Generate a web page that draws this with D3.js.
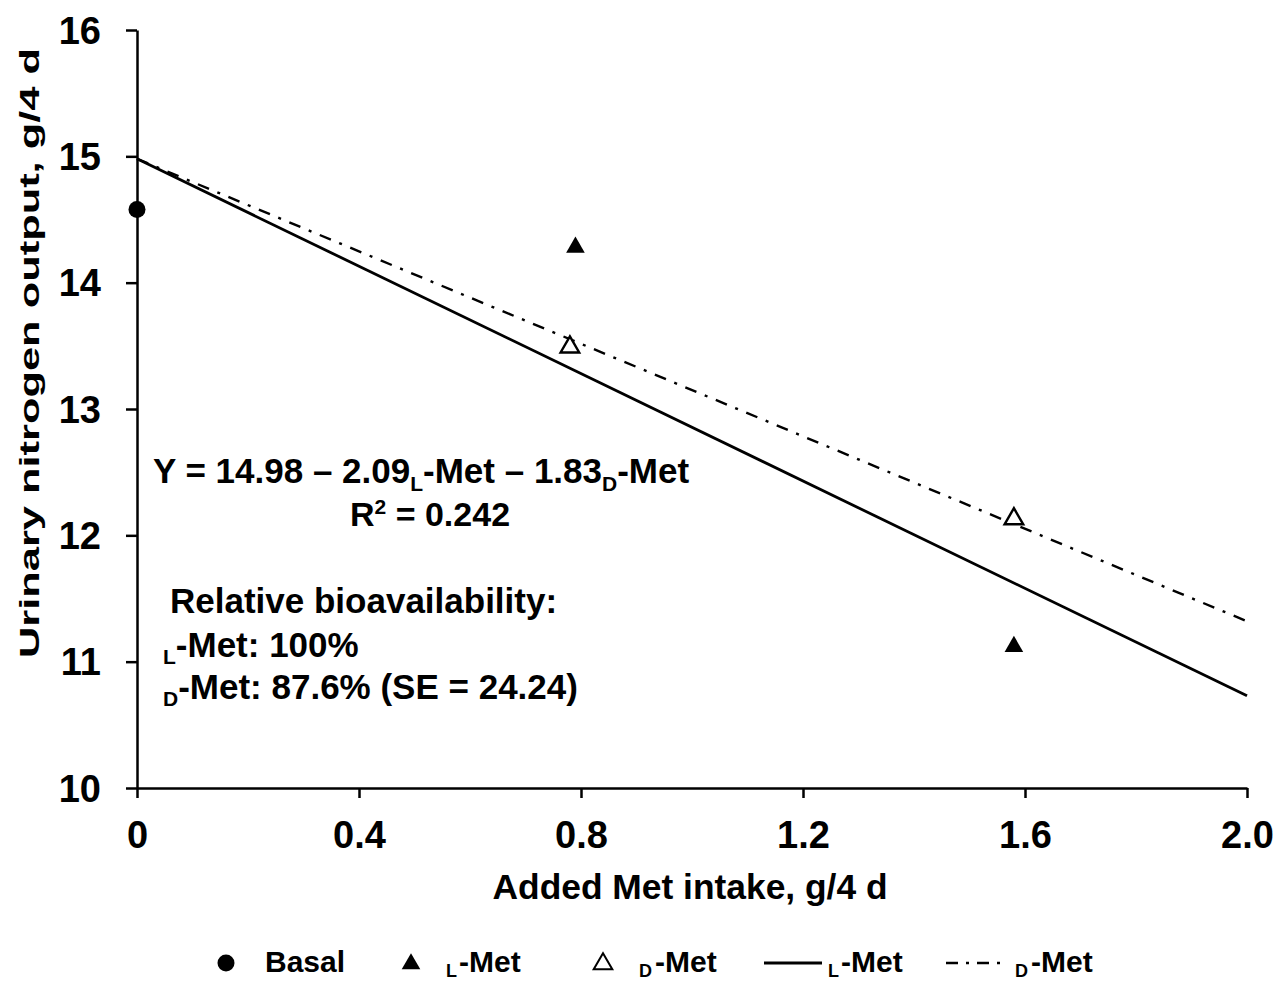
<!DOCTYPE html>
<html>
<head>
<meta charset="utf-8">
<script src="https://cdn.jsdelivr.net/npm/d3@7"></script>
<style>
  body { margin: 0; background: #fff; }
  svg { font-family: "Liberation Sans", Arial, sans-serif; font-weight: bold; }
  .axis path, .axis line { stroke: #000; stroke-width: 2.5px; }
  .axis text { font-size: 38px; font-weight: bold; fill: #000; }
</style>
</head>
<body>
<svg width="1273" height="982"></svg>
<script>
// observed means
var basal = [{ x: 0, y: 14.58 }];
var lMet = [{ x: 0.79, y: 14.28 }, { x: 1.58, y: 11.12 }];
var dMet = [{ x: 0.78, y: 13.49 }, { x: 1.58, y: 12.13 }];
// fitted lines (ends)
var lLine = [{ x: 0, y: 14.98 }, { x: 2.0, y: 10.73 }];
var dLine = [{ x: 0, y: 14.98 }, { x: 2.0, y: 11.32 }];

var xTicks = [0, 0.4, 0.8, 1.2, 1.6, 2.0];
var xTickLabels = ["0", "0.4", "0.8", "1.2", "1.6", "2.0"];
var yTicks = [10, 11, 12, 13, 14, 15, 16];

main();

function main() {
  var svg = d3.select("svg");
  var margin = { top: 30, left: 137 },
    width = 1110,
    height = 758;

  var g = svg.append("g").attr("transform", "translate(" + margin.left + "," + margin.top + ")");

  var x = d3.scaleLinear().domain([0, 2.0]).range([0, width]);
  var y = d3.scaleLinear().domain([10, 16]).range([height, 0]);

  // axes
  g.append("g")
    .attr("class", "axis")
    .attr("transform", "translate(0," + height + ")")
    .call(d3.axisBottom(x).tickValues(xTicks).tickSize(10).tickSizeOuter(0)
      .tickFormat(function(d, i) { return xTickLabels[i]; }))
    .selectAll("text").attr("y", 60).attr("dy", 0);

  g.append("g")
    .attr("class", "axis")
    .call(d3.axisLeft(y).tickValues(yTicks).tickSize(11).tickSizeOuter(0).tickFormat(d3.format("d")))
    .selectAll("text").attr("x", -36).attr("dy", "0.35em");

  // fitted lines
  var line = d3.line().x(function(d) { return x(d.x); }).y(function(d) { return y(d.y); });
  g.append("path").datum(lLine).attr("d", line)
    .attr("fill", "none").attr("stroke", "#000").attr("stroke-width", 2.8);
  g.append("path").datum(dLine).attr("d", line)
    .attr("fill", "none").attr("stroke", "#000").attr("stroke-width", 2.4)
    .attr("stroke-dasharray", "12,9,3,9");

  // markers
  var tri = d3.symbol().type(d3.symbolTriangle).size(150);
  g.selectAll(".basal").data(basal).enter().append("circle")
    .attr("cx", function(d) { return x(d.x); })
    .attr("cy", function(d) { return y(d.y); })
    .attr("r", 8.5).attr("fill", "#000");
  g.selectAll(".lmet").data(lMet).enter().append("path")
    .attr("d", tri)
    .attr("transform", function(d) { return "translate(" + x(d.x) + "," + y(d.y) + ")"; })
    .attr("fill", "#000");
  g.selectAll(".dmet").data(dMet).enter().append("path")
    .attr("d", tri)
    .attr("transform", function(d) { return "translate(" + x(d.x) + "," + y(d.y) + ")"; })
    .attr("fill", "#fff").attr("stroke", "#000").attr("stroke-width", 2.4);

  // annotation text
  var eq = svg.append("text").attr("x", 153).attr("y", 483).attr("font-size", 35);
  eq.append("tspan").text("Y = 14.98 \u2013 2.09");
  eq.append("tspan").attr("font-size", 21).attr("dy", 8).text("L");
  eq.append("tspan").attr("dy", -8).text("-Met \u2013 1.83");
  eq.append("tspan").attr("font-size", 21).attr("dy", 8).text("D");
  eq.append("tspan").attr("dy", -8).text("-Met");

  var r2 = svg.append("text").attr("x", 430).attr("y", 526).attr("font-size", 34).attr("text-anchor", "middle");
  r2.append("tspan").text("R");
  r2.append("tspan").attr("font-size", 21).attr("dy", -12).text("2");
  r2.append("tspan").attr("dy", 12).text(" = 0.242");

  svg.append("text").attr("x", 170).attr("y", 613).attr("font-size", 35).text("Relative bioavailability:");
  var l1 = svg.append("text").attr("x", 163).attr("y", 657).attr("font-size", 35);
  l1.append("tspan").attr("font-size", 21).attr("dy", 7).text("L");
  l1.append("tspan").attr("dy", -7).text("-Met: 100%");
  var l2 = svg.append("text").attr("x", 163).attr("y", 699).attr("font-size", 35);
  l2.append("tspan").attr("font-size", 21).attr("dy", 7).text("D");
  l2.append("tspan").attr("dy", -7).text("-Met: 87.6% (SE = 24.24)");

  // axis titles
  svg.append("text").attr("x", 690).attr("y", 899).attr("font-size", 35)
    .attr("text-anchor", "middle")
    .attr("textLength", 395).attr("lengthAdjust", "spacingAndGlyphs")
    .text("Added Met intake, g/4 d");
  svg.append("text").attr("transform", "translate(39,353) rotate(-90)").attr("font-size", 28)
    .attr("text-anchor", "middle")
    .attr("textLength", 610).attr("lengthAdjust", "spacingAndGlyphs")
    .text("Urinary nitrogen output, g/4 d");

  // legend
  var lg = svg.append("g").attr("font-size", 30);
  var ly = 963, tb = 972;
  function legendLabel(subX, sub, metX) {
    var t = lg.append("text").attr("y", tb);
    t.append("tspan").attr("x", subX).attr("font-size", 18).attr("dy", 5).text(sub);
    t.append("tspan").attr("x", metX).attr("dy", -5).text("-Met");
  }
  lg.append("circle").attr("cx", 226).attr("cy", ly).attr("r", 8.5).attr("fill", "#000");
  lg.append("text").attr("x", 265).attr("y", tb).text("Basal");

  lg.append("path").attr("d", tri).attr("transform", "translate(411," + (ly + 1) + ")").attr("fill", "#000");
  legendLabel(446, "L", 459);

  lg.append("path").attr("d", tri)
    .attr("transform", "translate(603," + (ly + 1) + ")")
    .attr("fill", "#fff").attr("stroke", "#000").attr("stroke-width", 2);
  legendLabel(639, "D", 655);

  lg.append("line").attr("x1", 764).attr("x2", 822).attr("y1", ly).attr("y2", ly)
    .attr("stroke", "#000").attr("stroke-width", 2.8);
  legendLabel(828, "L", 841);

  lg.append("line").attr("x1", 946).attr("x2", 1004).attr("y1", ly).attr("y2", ly)
    .attr("stroke", "#000").attr("stroke-width", 2.4).attr("stroke-dasharray", "12,8,3,8");
  legendLabel(1015, "D", 1031);
}
</script>
</body>
</html>
